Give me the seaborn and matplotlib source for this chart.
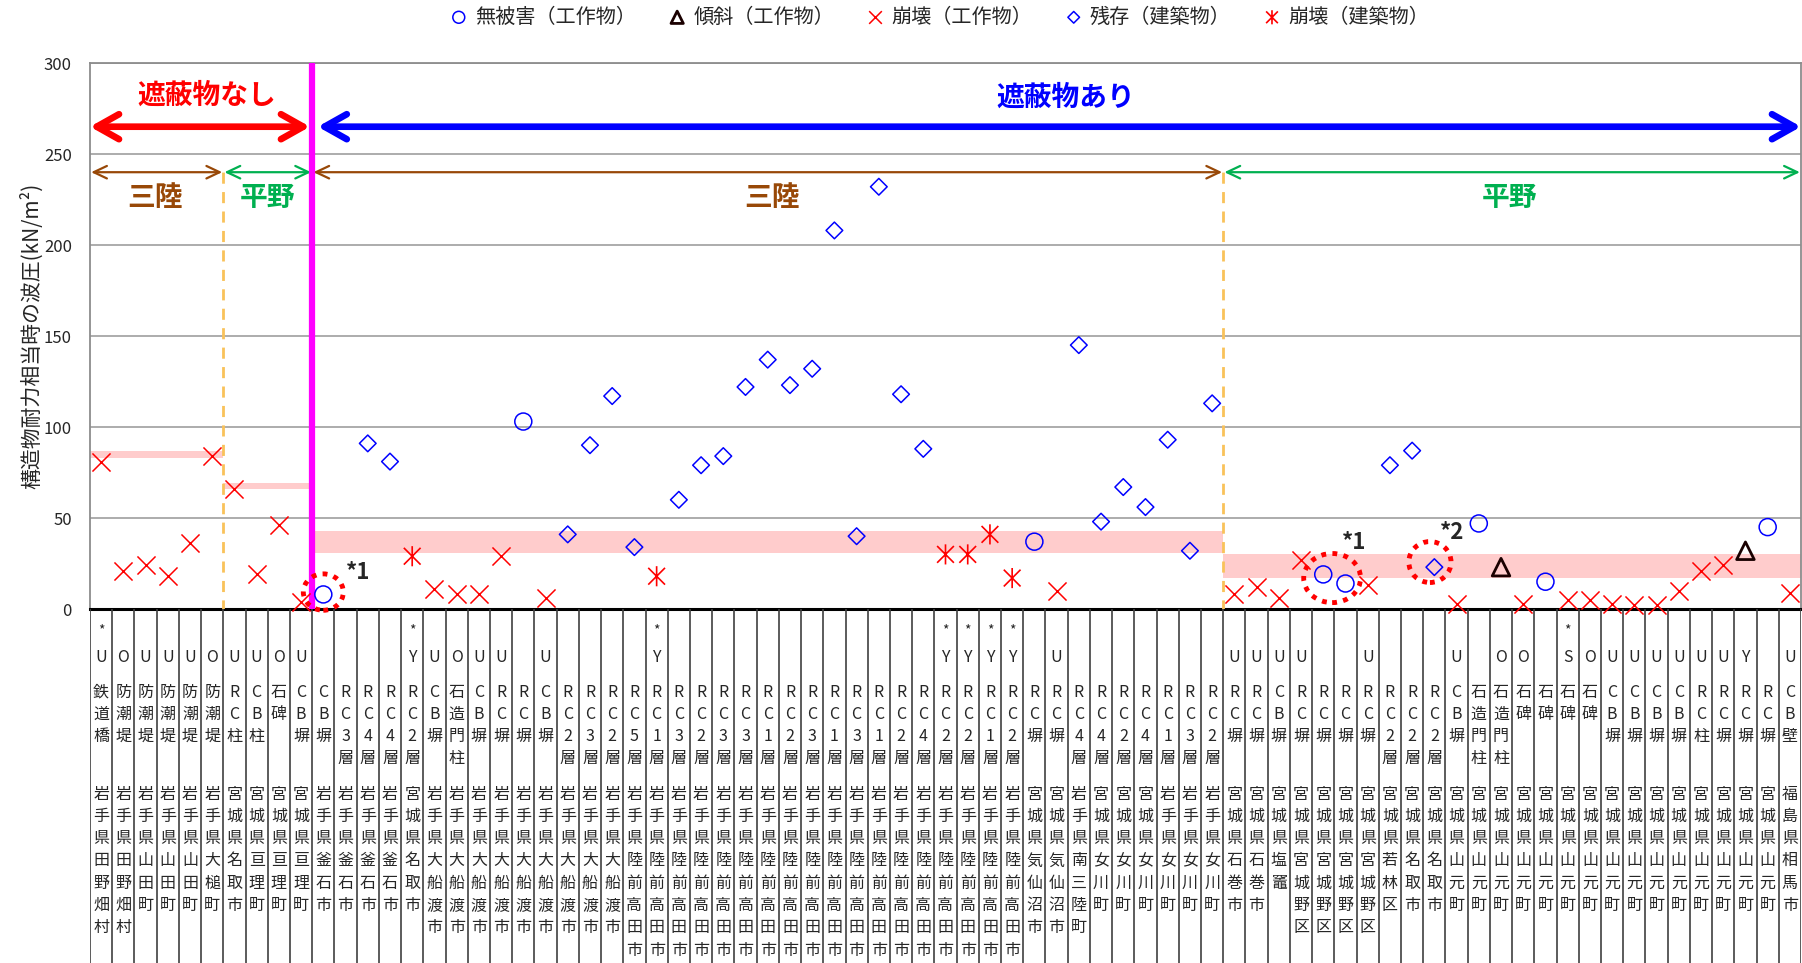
import matplotlib.pyplot as plt
import seaborn as sns
import pandas as pd
import numpy as np
from matplotlib.path import Path
from matplotlib.patches import Ellipse

sns.set_style("white")
plt.rcParams['font.family'] = ['Noto Sans CJK JP', 'DejaVu Sans']

# 被害区分: o=無被害(工作物) t=傾斜(工作物) x=崩壊(工作物) d=残存(建築物) a=崩壊(建築物)
kinds = ["x", "x", "x", "x", "x", "x", "x", "x", "x", "x",
         "o", "", "d", "d", "a", "x", "x", "x", "x", "o",
         "x", "d", "d", "d", "d", "a", "d", "d", "d", "d",
         "d", "d", "d", "d", "d", "d", "d", "d", "a", "a",
         "a", "a", "o", "x", "d", "d", "d", "d", "d", "d",
         "d", "x", "x", "x", "x", "o", "o", "x", "d", "d",
         "d", "x", "o", "t", "x", "o", "x", "x", "x", "x",
         "x", "x", "x", "x", "t", "o", "x"]

# 構造物耐力相当時の波圧 (kN/m2)
values = [81, 21, 24, 18, 36, 84, 66, 19, 46, 4,
          8, np.nan, 91, 81, 29, 11, 8, 8, 29, 103,
          6, 41, 90, 117, 34, 18, 60, 79, 84, 122,
          137, 123, 132, 208, 40, 232, 118, 88, 30, 30,
          41, 17, 37, 10, 145, 48, 67, 56, 93, 32,
          113, 8, 12, 6, 27, 19, 14, 13, 79, 87,
          23, 3, 47, 23, 3, 15, 5, 5, 3, 2,
          2, 10, 21, 24, 32, 45, 9]

codes = ["*U", "O", "U", "U", "U", "O", "U", "U", "O", "U",
         "", "", "", "", "*Y", "U", "O", "U", "U", "",
         "U", "", "", "", "", "*Y", "", "", "", "",
         "", "", "", "", "", "", "", "", "*Y", "*Y",
         "*Y", "*Y", "", "U", "", "", "", "", "", "",
         "", "U", "U", "U", "U", "", "", "U", "", "",
         "", "U", "", "O", "O", "", "*S", "O", "U", "U",
         "U", "U", "U", "U", "Y", "", "U"]

types = ["鉄道橋", "防潮堤", "防潮堤", "防潮堤", "防潮堤", "防潮堤", "RC柱", "CB柱", "石碑", "CB塀",
         "CB塀", "RC3層", "RC4層", "RC4層", "RC2層", "CB塀", "石造門柱", "CB塀", "RC塀", "RC塀",
         "CB塀", "RC2層", "RC3層", "RC2層", "RC5層", "RC1層", "RC3層", "RC2層", "RC3層", "RC3層",
         "RC1層", "RC2層", "RC3層", "RC1層", "RC3層", "RC1層", "RC2層", "RC4層", "RC2層", "RC2層",
         "RC1層", "RC2層", "RC塀", "RC塀", "RC4層", "RC4層", "RC2層", "RC4層", "RC1層", "RC3層",
         "RC2層", "RC塀", "RC塀", "CB塀", "RC塀", "RC塀", "RC塀", "RC塀", "RC2層", "RC2層",
         "RC2層", "CB塀", "石造門柱", "石造門柱", "石碑", "石碑", "石碑", "石碑", "CB塀", "CB塀",
         "CB塀", "CB塀", "RC柱", "RC塀", "RC塀", "RC塀", "CB壁"]

places = (["岩手県田野畑村"] * 2 + ["岩手県山田町"] * 3 + ["岩手県大槌町"] + ["宮城県名取市"]
          + ["宮城県亘理町"] * 3 + ["岩手県釜石市"] * 4 + ["宮城県名取市"] + ["岩手県大船渡市"] * 9
          + ["岩手県陸前高田市"] * 18 + ["宮城県気仙沼市"] * 2 + ["岩手県南三陸町"]
          + ["宮城県女川町"] * 3 + ["岩手県女川町"] * 3 + ["宮城県石巻市"] * 2 + ["宮城県塩竈"]
          + ["宮城県宮城野区"] * 4 + ["宮城県若林区"] + ["宮城県名取市"] * 2
          + ["宮城県山元町"] * 15 + ["福島県相馬市"])

# 区間 (三陸/平野) と基準帯
group_edges = [0.5, 6.5, 10.5, 51.5, 77.5]
band_lo = [83, 66, 31, 17]
band_hi = [87, 69, 43, 30]

df = pd.DataFrame({"col": np.arange(1, 78), "value": values, "kind": kinds})

fig = plt.figure(figsize=(18.02, 9.63), dpi=100)
ax = fig.add_axes([90 / 1802, 354 / 963, 1711 / 1802, 546 / 963])
axt = fig.add_axes([90 / 1802, 0, 1711 / 1802, 354 / 963])

# 基準帯
for i in range(4):
    ax.fill_between([group_edges[i], group_edges[i + 1]], band_lo[i], band_hi[i],
                    color="#FFCCCC", lw=0, zorder=1)

# マーカー
star = Path([(-1, -1), (1, 1), (-1, 1), (1, -1), (0, -1.2), (0, 1.2)],
            [Path.MOVETO, Path.LINETO, Path.MOVETO, Path.LINETO, Path.MOVETO, Path.LINETO])
styles = [
    ("o", "無被害（工作物）", dict(marker="o", s=150, facecolor="none", edgecolor="#0000FF", linewidth=1.1)),
    ("t", "傾斜（工作物）", dict(marker="^", s=160, facecolor="none", edgecolor="#1A0000", linewidth=2)),
    ("x", "崩壊（工作物）", dict(marker="x", s=170, color="#FF0000", linewidth=1.1)),
    ("d", "残存（建築物）", dict(marker="D", s=72, facecolor="none", edgecolor="#0000FF", linewidth=1.1)),
    ("a", "崩壊（建築物）", dict(marker=star, s=210, facecolor="none", edgecolor="#FF0000", linewidth=1.2)),
]
for k, lab, kw in styles:
    sns.scatterplot(data=df[df["kind"] == k], x="col", y="value", label=lab, legend=False,
                    ax=ax, zorder=5, clip_on=False, **kw)

# 遮蔽物の境界
ax.plot([10.5, 10.5], [0, 300], color="#FF00FF", lw=4.5, zorder=4, solid_capstyle="butt")
for xb in [6.5, 51.5]:
    ax.plot([xb, xb], [-1, 240], color="#F9C25A", lw=2, ls=(0, (4, 3)), zorder=3)

ax.annotate("", xy=(0.5, 265), xytext=(10.4, 265),
            arrowprops=dict(arrowstyle="<->,head_length=0.8,head_width=0.45", color="#FF0000",
                            lw=4.8, shrinkA=0, shrinkB=0, mutation_scale=20))
ax.annotate("", xy=(10.75, 265), xytext=(77.5, 265),
            arrowprops=dict(arrowstyle="<->,head_length=0.8,head_width=0.45", color="#0000FF",
                            lw=4.8, shrinkA=0, shrinkB=0, mutation_scale=20))
ax.text(5.76, 282, "遮蔽物なし", color="#FF0000", fontsize=20, fontweight="bold", ha="center", va="center")
ax.text(44.4, 281, "遮蔽物あり", color="#0000FF", fontsize=20, fontweight="bold", ha="center", va="center")

brown = "#984807"
green = "#00B050"
sub = [(0.5, 6.5, brown, "三陸", 3.42), (6.5, 10.5, green, "平野", 8.5),
       (10.5, 51.5, brown, "三陸", 31.2), (51.5, 77.5, green, "平野", 64.4)]
for x1, x2, c, name, xt in sub:
    ax.annotate("", xy=(x1 + 0.05, 240), xytext=(x2 - 0.05, 240),
                arrowprops=dict(arrowstyle="<->,head_length=0.95,head_width=0.45", color=c,
                                lw=1.6, shrinkA=0, shrinkB=0, mutation_scale=10))
    ax.text(xt, 226, name, color=c, fontsize=20, fontweight="bold", ha="center", va="center")

# 注記
for (cx, cy, w, h) in [(11, 9.3, 1.8, 20), (56.4, 17, 2.56, 27), (60.8, 25.8, 1.9, 22.5)]:
    ax.add_patch(Ellipse((cx, cy), w, h, fill=False, ec="#FF0000", lw=3.5, ls=(0, (1, 1.3)),
                         zorder=6, clip_on=False))
ax.text(12.56, 20.3, "*1", fontsize=16, fontweight="bold", ha="center", va="center")
ax.text(57.4, 36.3, "*1", fontsize=16, fontweight="bold", ha="center", va="center")
ax.text(61.8, 41.8, "*2", fontsize=16, fontweight="bold", ha="center", va="center")

ax.set_xlim(0.5, 77.5)
ax.set_ylim(0, 300)
ax.set_yticks(np.arange(0, 301, 50))
ax.set_xticks([])
ax.set_xlabel("")
ax.set_ylabel("")
ax.tick_params(axis="y", length=0, pad=13, labelsize=12)
ax.yaxis.grid(True, color="#A6A6A6", lw=1.3)
ax.set_axisbelow(True)
for s in ["top", "right", "left"]:
    ax.spines[s].set_color("#8C8C8C")
    ax.spines[s].set_linewidth(1.3)
ax.spines["bottom"].set_color("black")
ax.spines["bottom"].set_linewidth(2.2)
fig.text(32 / 1802, 1 - 336 / 963, "構造物耐力相当時の波圧(kN/m²)", rotation=90,
         ha="center", va="center", fontsize=15)

# 表
axt.set_xlim(0.5, 77.5)
axt.set_ylim(963, 609)
axt.axis("off")
axt.vlines(np.arange(0.5, 78, 1), 609, 963, color="#404040", lw=1.2)
for i in range(77):
    x = i + 1
    code = codes[i]
    if code.startswith("*"):
        axt.text(x, 630, "*", ha="center", va="center", fontsize=10)
        code = code[1:]
    if code:
        axt.text(x, 657, code, ha="center", va="center", fontsize=11.5)
    for k, ch in enumerate(types[i]):
        axt.text(x, 692 + 22 * k, ch, ha="center", va="center", fontsize=11.5)
    for k, ch in enumerate(places[i]):
        axt.text(x, 794 + 22.3 * k, ch, ha="center", va="center", fontsize=11.5)

h, l = ax.get_legend_handles_labels()
fig.legend(h, l, loc="upper center", bbox_to_anchor=(0.521, 1.012), ncol=5, frameon=False,
           fontsize=14.5, markerscale=0.7, handlelength=1.0, handletextpad=0.3, columnspacing=1.55)

fig.savefig("out.png", dpi=100)
